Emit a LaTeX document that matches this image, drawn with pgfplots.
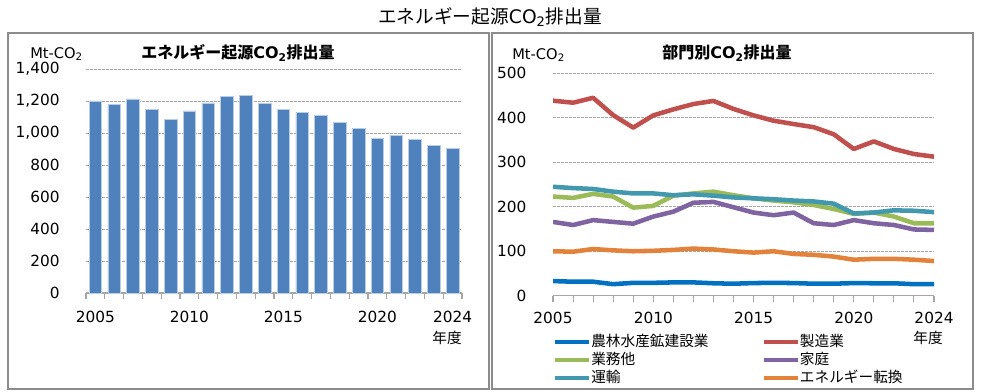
\documentclass[border=0pt]{standalone}
\usepackage{fontspec}
\setmainfont{DejaVu Sans}
\newfontfamily\jp{Noto Sans CJK JP}
\usepackage{pgfplots}
\pgfplotsset{compat=1.18}
\definecolor{barblue}{HTML}{4F81BD}
\definecolor{baredge}{HTML}{B9CDE5}
\definecolor{cblue}{HTML}{0070C0}
\definecolor{cred}{HTML}{C0504D}
\definecolor{cgreen}{HTML}{9BBB59}
\definecolor{cpurple}{HTML}{8064A2}
\definecolor{cteal}{HTML}{4198AF}
\definecolor{corange}{HTML}{E2823B}
\definecolor{gridc}{HTML}{A6A6A6}
\definecolor{boxc}{HTML}{8C8C8C}
\begin{document}
\begin{tikzpicture}
\path[use as bounding box] (0,0) rectangle (735.75pt,-294pt);
\draw[boxc, line width=0.8pt] (6pt,-24.75pt) rectangle (366.75pt,-291.75pt);
\draw[boxc, line width=0.8pt] (369pt,-24.75pt) rectangle (729.75pt,-291.75pt);
\node[font=\fontsize{14}{16}\selectfont] at (367.5pt,-12.75pt) {{\jp エネルギー起源}CO\textsubscript{2}{\jp 排出量}};
% left panel
\node[font=\fontsize{12}{14}\selectfont\bfseries] at (178.5pt,-39.75pt) {{\jp エネルギー起源}CO\textsubscript{2}{\jp 排出量}};
\node[anchor=west, inner sep=0pt, font=\fontsize{11}{13}\selectfont] at (22.5pt,-40.5pt) {Mt-CO\textsubscript{2}};
\node[font=\fontsize{11}{13}\selectfont\jp] at (335.25pt,-253.5pt) {年度};
\begin{axis}[
  at={(64.5pt,-219.75pt)}, anchor=south west,
  scale only axis, width=282pt, height=168pt,
  xmin=2004.5, xmax=2024.5, ymin=0, ymax=1400,
  axis x line*=bottom, axis y line*=left,
  x axis line style={gridc, line width=0.8pt, -},
  y axis line style={draw=none},
  xtick={2005,2010,2015,2020,2024},
  minor xtick={2004.5,2005.5,...,2024.5},
  major x tick style={draw=none},
  minor x tick style={gridc, line width=0.8pt},
  tick align=outside, minor tick length=4.5pt,
  ytick={0,200,...,1400}, major y tick style={draw=none},
  ymajorgrids, grid style={gridc, dash pattern=on 2pt off 1pt, line width=0.6pt},
  /pgf/number format/assume math mode=true,
  /pgf/number format/1000 sep={,},
  tick label style={font=\fontsize{11.5}{13}\selectfont},
  yticklabel style={xshift=-12pt},
  xticklabel style={yshift=-5.5pt},
  xticklabel={\pgfmathprintnumber[1000 sep={}]{\tick}},
]
\addplot[ybar, bar width=9.5pt, fill=barblue, draw=baredge, line width=0.5pt] coordinates {
(2005,1200)(2006,1180)(2007,1213)(2008,1147)(2009,1086)(2010,1138)(2011,1188)(2012,1228)(2013,1236)(2014,1186)
(2015,1145)(2016,1128)(2017,1109)(2018,1064)(2019,1028)(2020,968)(2021,987)(2022,962)(2023,920)(2024,906)};
\end{axis}
% right panel
\node[font=\fontsize{12}{14}\selectfont\bfseries] at (545.25pt,-39.75pt) {{\jp 部門別}CO\textsubscript{2}{\jp 排出量}};
\node[anchor=west, inner sep=0pt, font=\fontsize{11}{13}\selectfont] at (384pt,-41.25pt) {Mt-CO\textsubscript{2}};
\node[font=\fontsize{11}{13}\selectfont\jp] at (696pt,-253.5pt) {年度};
\begin{axis}[
  at={(414.75pt,-221.8pt)}, anchor=south west,
  scale only axis, width=285.75pt, height=166.8pt,
  xmin=2005, xmax=2024, ymin=0, ymax=500,
  axis x line*=bottom, axis y line*=left,
  x axis line style={gridc, line width=0.8pt, -},
  y axis line style={draw=none},
  xtick={2005,2010,2015,2020,2024},
  minor xtick={2005,...,2024},
  major x tick style={gridc, line width=0.8pt},
  minor x tick style={gridc, line width=0.8pt},
  tick align=outside, major tick length=4.5pt, minor tick length=4.5pt,
  ytick={0,100,...,500}, major y tick style={draw=none},
  ymajorgrids, grid style={gridc, dash pattern=on 2pt off 1pt, line width=0.6pt},
  /pgf/number format/assume math mode=true,
  tick label style={font=\fontsize{11.5}{13}\selectfont},
  yticklabel style={xshift=-12pt},
  xticklabel style={yshift=-4pt},
  xticklabel={\pgfmathprintnumber[1000 sep={}]{\tick}},
  legend columns=2,
  legend style={at={(0,-0.168)}, anchor=north west, draw=none, fill=none,
    inner sep=0pt, row sep=0pt,
    font=\fontsize{11}{13}\selectfont\jp,
    nodes={inner sep=0pt, text height=10pt, text depth=3.5pt},
    /tikz/every even column/.append style={column sep=40pt}},
  legend cell align=left,
  legend image code/.code={\draw[#1, line width=3pt] (0pt,0pt) -- (25.5pt,0pt);},
  every axis plot/.append style={line width=3.4pt, line join=round},
]
\addplot[cblue] coordinates {
(2005,33)(2006,31.5)(2007,31.5)(2008,26)(2009,29)(2010,29)(2011,30)(2012,30)(2013,28)(2014,27)
(2015,28.5)(2016,29)(2017,28.5)(2018,27)(2019,27)(2020,28.5)(2021,28)(2022,28)(2023,26)(2024,26)};
\addlegendentry{農林水産鉱建設業}
\addplot[cred] coordinates {
(2005,438.5)(2006,434)(2007,445)(2008,406)(2009,378)(2010,405.5)(2011,419)(2012,431)(2013,438)(2014,420)
(2015,405.5)(2016,393.5)(2017,386)(2018,379)(2019,363)(2020,330)(2021,347)(2022,330)(2023,318.6)(2024,312.6)};
\addlegendentry{製造業}
\addplot[cgreen] coordinates {
(2005,223)(2006,220)(2007,229)(2008,223)(2009,198)(2010,202)(2011,225)(2012,230)(2013,234)(2014,226)
(2015,219)(2016,214)(2017,210)(2018,204)(2019,195)(2020,184)(2021,187)(2022,178)(2023,163)(2024,163)};
\addlegendentry{業務他}
\addplot[cpurple] coordinates {
(2005,166)(2006,159)(2007,170)(2008,166)(2009,162)(2010,178)(2011,189)(2012,209)(2013,211)(2014,199)
(2015,187)(2016,181)(2017,187)(2018,163)(2019,159)(2020,170)(2021,163)(2022,159)(2023,149)(2024,148)};
\addlegendentry{家庭}
\addplot[cteal] coordinates {
(2005,245)(2006,242)(2007,240)(2008,234)(2009,230)(2010,230)(2011,226)(2012,228)(2013,225)(2014,221)
(2015,219)(2016,217)(2017,214)(2018,212)(2019,207)(2020,185)(2021,187)(2022,192)(2023,191)(2024,188)};
\addlegendentry{運輸}
\addplot[corange] coordinates {
(2005,100)(2006,99)(2007,105)(2008,102)(2009,100)(2010,101)(2011,103)(2012,106)(2013,104)(2014,100)
(2015,97)(2016,100)(2017,94)(2018,92)(2019,88)(2020,81)(2021,83)(2022,83)(2023,81)(2024,78)};
\addlegendentry{エネルギー転換}
\end{axis}
\end{tikzpicture}
\end{document}
